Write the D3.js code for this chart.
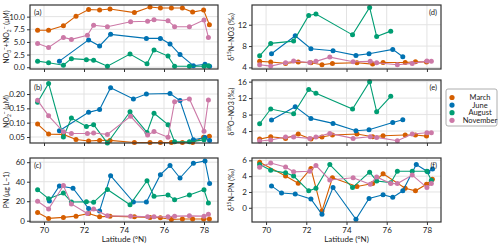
<!DOCTYPE html>
<html>
<head>
<meta charset="utf-8">
<script src="https://cdn.jsdelivr.net/npm/d3@7"></script>
<style>
  body { margin: 0; background: #fff; }
  svg { font-family: Lato, "Open Sans", sans-serif; }
</style>
</head>
<body>
<script>
// station latitudes for each cruise
var latMarch = [69.68, 70.23, 70.97, 71.6, 72.23, 72.78, 73.3, 74.52, 75.3, 75.82, 76.37, 76.92, 77.43, 77.98, 78.27];
var latJune = [70.27, 70.77, 71.45, 72.23, 72.78, 73.33, 74.47, 75.12, 75.82, 76.3, 76.8, 77.47, 78.05, 78.28];
var latAug = [69.68, 70.23, 70.97, 71.37, 72.12, 72.48, 73.17, 74.3, 75.15, 75.5, 76.2, 76.53, 77.27, 78.0, 78.22];
var latNov = [69.68, 70.23, 70.97, 71.37, 72.17, 72.48, 73.17, 74.33, 75.18, 75.5, 76.2, 76.53, 77.27, 78.0, 78.22];

var months = ["March", "June", "August", "November"];
var latTicks = [70, 72, 74, 76, 78];

// (a) NO3+NO2
var noxMarch = [7.3, 7.3, 8.2, 10.1, 11.4, 11.3, 11.5, 10.8, 11.9, 11.7, 11.7, 11.7, 10.9, 11.3, 8.4];
var noxJune = [null, 1.2, null, 5.4, 4.2, 6.5, null, 5.7, 5.7, 4.6, 2.5, 0.3, 0.6, 0.2];
var noxAug = [1.2, 0.9, 0.4, 1.7, 1.5, 1.4, 0.2, 2.6, 0.7, 3.4, 2.2, 0.2, 0.2, 0.2, 0.3];
var noxNov = [4.7, 3.9, 5.9, 5.5, 6.3, 8.3, 8.0, 9.0, 9.1, 9.4, 9.2, 8.0, 8.0, 9.35, 5.9];

// (b) NO2
var no2March = [0.095, 0.060, 0.059, 0.041, 0.036, 0.038, 0.038, 0.031, 0.031, 0.031, 0.031, 0.031, 0.031, 0.049, 0.053];
var no2June = [null, 0.072, null, 0.136, 0.146, 0.222, 0.183, 0.20, null, 0.202, 0.177, 0.04, 0.048, 0.038];
var no2Aug = [0.171, 0.237, 0.05, 0.116, 0.087, 0.093, 0.029, 0.138, 0.066, 0.133, 0.093, 0.033, 0.033, 0.04, null];
var no2Nov = [0.178, 0.124, 0.068, 0.062, 0.062, 0.064, 0.059, 0.122, 0.057, 0.069, 0.049, 0.173, 0.183, 0.07, 0.179];

// (c) PN
var pnMarch = [8.4, 2.4, 3.4, 4.7, 7.4, 4.0, 4.7, 4.0, 3.4, 3.0, 1.3, 1.7, 1.7, 1.7, 1.7];
var pnJune = [20.2, 35.7, 33.4, 12.5, 10.1, 46.2, 19.2, 19.2, 47.2, 56.6, 43.8, 59, 61.3, 38.1];
var pnAug = [31.7, 22.6, 28.3, 19.2, 19.5, 18.9, 32, 16.5, 41, 25, 26.3, 21.6, 26.3, 31.7, 18.2];
var pnNov = [20, 12.1, 36, 17.2, 7.4, 12.1, 5, 4.7, 4, 4, 4, 4.7, 5, 4.7, 6.7];

// (d) d15N-NO3
var d15nMarch = [5.13, 5.0, 4.75, 5.0, 4.87, 4.5, 4.75, 4.87, 4.62, 4.93, null, 4.93, 5.06, 5.0, null];
var d15nJune = [6.55, null, 9.93, 7.49, null, 7.11, 6.25, 6.55, null, 7.37, 5.99, null, null, null];
var d15nAug = [6.18, 8.5, null, 8.93, 13.75, 14.0, null, 10.1, 15.25, 9.8, 10.8, null, null, null, null];
var d15nNov = [4.5, 4.24, 4.87, 5.18, 4.93, 5.13, 5.93, 5.06, 5.13, 4.87, null, 4.5, 4.75, 5.18, 5.13];

// (e) d18O-NO3
var d18oMarch = [2.05, 2.61, 2.22, 3.27, 2.05, 2.54, 3.03, 3.27, 2.61, 2.86, null, 3.03, 3.03, 2.78, null];
var d18oJune = [6.68, null, 9.92, 7.08, null, 5.86, 4.08, 4.33, null, 6.1, 6.76, null, null, null];
var d18oAug = [5.78, 9.35, null, 8.22, 14.1, 13.16, null, 9.35, 16.0, 8.7, 12.43, null, null, null, null];
var d18oNov = [1.57, 1.81, 2.54, 2.54, 2.22, 2.54, 3.43, 2.22, 2.61, 2.46, null, 1.65, 3.27, 3.6, 3.6];

// (f) d15N-PN
var d15pnMarch = [5.75, null, 4.01, 3.1, 4.97, -0.42, 3.8, 2.69, 3.06, 4.3, null, 2.48, 2.15, 2.98, 3.6];
var d15pnJune = [2.77, 1.86, 1.74, 1.12, -0.83, 2.56, -1.45, 1.19, 1.65, 1.32, 2.15, 5.47, 4.55, 4.92];
var d15pnAug = [5.47, 4.76, 4.42, 4.01, 2.15, 2.48, 5.47, 2.56, 4.51, 3.39, 3.18, 4.63, 4.63, 4.63, 3.48];
var d15pnNov = [5.13, 5.66, 5.17, 4.55, 4.63, 5.34, 3.52, 3.8, 2.98, 3.89, 3.06, 3.06, 4.14, 2.56, 3.06];

var colors = ["#d55e00", "#0072b2", "#009e73", "#cc79a7"];
var lats = [latMarch, latJune, latAug, latNov];

var cols = [[30, 218], [252, 441]];
var rows = [[5, 69], [80, 143], [158, 222]];
var latDomain = [69.3, 78.7];

var panels = [
  {tag: "(a)", col: 0, row: 0, dom: [-0.35, 12.3], ticks: [0, 2.5, 5, 7.5, 10], fmt: ".1f",
   label: [["NO"], ["3", "sub"], ["−", "sup"], ["+NO"], ["2", "sub"], ["−", "sup"], [" (μM)"]],
   series: [noxMarch, noxJune, noxAug, noxNov]},
  {tag: "(b)", col: 0, row: 1, dom: [0.029, 0.249], ticks: [0.05, 0.10, 0.15, 0.20], fmt: ".2f",
   label: [["NO"], ["2", "sub"], ["−", "sup"], [" (μM)"]],
   series: [no2March, no2June, no2Aug, no2Nov]},
  {tag: "(c)", col: 0, row: 2, dom: [-1.3, 64.3], ticks: [0, 20, 40, 60], fmt: "d",
   label: [["PN (μg L−1)"]],
   series: [pnMarch, pnJune, pnAug, pnNov]},
  {tag: "(d)", col: 1, row: 0, dom: [3.7, 15.7], ticks: [4, 8, 12], fmt: "d",
   label: [["δ"], ["15", "sup"], ["N−NO3 (‰)"]],
   series: [d15nMarch, d15nJune, d15nAug, d15nNov]},
  {tag: "(e)", col: 1, row: 1, dom: [1.1, 16.4], ticks: [4, 8, 12, 16], fmt: "d",
   label: [["δ"], ["18", "sup"], ["O−NO3 (‰)"]],
   series: [d18oMarch, d18oJune, d18oAug, d18oNov]},
  {tag: "(f)", col: 1, row: 2, dom: [-1.8, 6.3], ticks: [0, 2, 4, 6], fmt: "d",
   label: [["δ"], ["15", "sup"], ["N−PN (‰)"]],
   series: [d15pnMarch, d15pnJune, d15pnAug, d15pnNov]}
];

var svg = d3.select("body").append("svg").attr("width", 500).attr("height", 246);

panels.forEach(function(p){
  var x0 = cols[p.col][0], x1 = cols[p.col][1];
  var y0 = rows[p.row][0], y1 = rows[p.row][1];
  var x = d3.scaleLinear().domain(latDomain).range([x0, x1]);
  var y = d3.scaleLinear().domain(p.dom).range([y1, y0]);
  var g = svg.append("g");

  // grid
  g.selectAll(".gx").data(latTicks).enter().append("line")
    .attr("x1", function(d){ return x(d); }).attr("x2", function(d){ return x(d); })
    .attr("y1", y0).attr("y2", y1)
    .attr("stroke", "#e3e3e3").attr("stroke-width", 1);
  g.selectAll(".gy").data(p.ticks).enter().append("line")
    .attr("x1", x0).attr("x2", x1)
    .attr("y1", function(d){ return y(d); }).attr("y2", function(d){ return y(d); })
    .attr("stroke", "#e3e3e3").attr("stroke-width", 1);

  // one line + markers per cruise, nulls dropped
  p.series.forEach(function(vals, i){
    var pts = vals.map(function(v, j){ return [lats[i][j], v]; })
                  .filter(function(d){ return d[1] != null; });
    var line = d3.line().x(function(d){ return x(d[0]); }).y(function(d){ return y(d[1]); });
    g.append("path").datum(pts).attr("d", line)
      .attr("fill", "none").attr("stroke", colors[i]).attr("stroke-width", 1.1);
    g.selectAll(null).data(pts).enter().append("circle")
      .attr("cx", function(d){ return x(d[0]); })
      .attr("cy", function(d){ return y(d[1]); })
      .attr("r", 2.5).attr("fill", colors[i]);
  });

  // frame
  g.append("rect").attr("x", x0).attr("y", y0).attr("width", x1 - x0).attr("height", y1 - y0)
    .attr("fill", "none").attr("stroke", "#333").attr("stroke-width", 1.2);

  // axes
  var yAxis = d3.axisLeft(y).tickValues(p.ticks).tickFormat(d3.format(p.fmt)).tickSize(3).tickPadding(2);
  var ya = g.append("g").attr("transform", "translate(" + x0 + ",0)").call(yAxis);
  var xAxis = d3.axisBottom(x).tickValues(latTicks).tickSize(3).tickPadding(2)
    .tickFormat(p.row == 2 ? d3.format("d") : function(){ return ""; });
  var xa = g.append("g").attr("transform", "translate(0," + y1 + ")").call(xAxis);
  [ya, xa].forEach(function(a){
    a.select(".domain").remove();
    a.selectAll("line").attr("stroke", "#333");
    a.selectAll("text").attr("fill", "#222").style("font-size", "8px").style("font-family", "Lato, 'Open Sans', sans-serif");
  });

  // panel tag
  var tag = g.append("text").attr("y", y0 + 10).style("font-size", "7.5px").attr("fill", "#222").text(p.tag);
  if (p.col == 0) tag.attr("x", x0 + 4);
  else tag.attr("x", x1 - 4).attr("text-anchor", "end");

  // y label
  var lx = p.col == 0 ? 9 : 234;
  var lab = g.append("text")
    .attr("transform", "translate(" + lx + "," + ((y0 + y1) / 2) + ") rotate(-90)")
    .attr("text-anchor", "middle").style("font-size", "7px").attr("fill", "#222");
  var shift = 0;
  p.label.forEach(function(part){
    var t = lab.append("tspan").text(part[0]);
    var target = part[1] == "sub" ? 2 : part[1] == "sup" ? -3 : 0;
    if (target != shift) t.attr("dy", target - shift);
    if (part[1]) t.style("font-size", "4.8px");
    shift = target;
  });
});

// x labels
[0, 1].forEach(function(c){
  svg.append("text").attr("x", (cols[c][0] + cols[c][1]) / 2).attr("y", 242)
    .attr("text-anchor", "middle").style("font-size", "8px").attr("fill", "#222")
    .text("Latitude (°N)");
});

// legend
var leg = svg.append("g");
leg.append("rect").attr("x", 446).attr("y", 89).attr("width", 51).attr("height", 37).attr("rx", 2)
  .attr("fill", "#fff").attr("stroke", "#999").attr("stroke-width", 0.8);
months.forEach(function(m, i){
  var yy = 97.5 + i * 7.6;
  leg.append("circle").attr("cx", 452).attr("cy", yy).attr("r", 2.6).attr("fill", colors[i]);
  leg.append("text").attr("x", 480).attr("y", yy + 2.6).attr("text-anchor", "middle")
    .style("font-size", "7.5px").attr("fill", "#222").text(m);
});
</script>
</body>
</html>
